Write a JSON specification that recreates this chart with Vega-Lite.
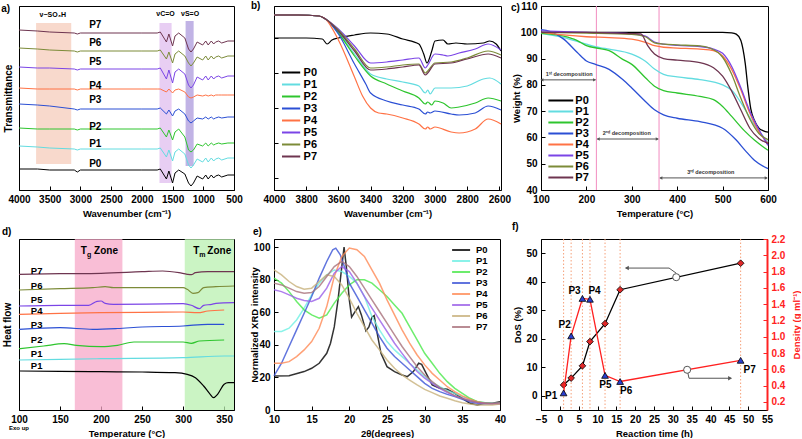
{
"$schema":"https://vega.github.io/schema/vega-lite/v6.json",
"background":"white",
"padding":0,
"config":{
 "font":"Liberation Sans",
 "view":{"stroke":"#000","strokeWidth":1},
 "axis":{"labelFontSize":10,"labelFontWeight":"bold","labelColor":"#000","titleFontSize":9.5,"titleFontWeight":"bold","titleColor":"#000","domainColor":"#000","tickColor":"#000","grid":false,"tickSize":-4,"labelPadding":8,"titlePadding":4,"labelFlush":false,"labelOverlap":false},
 "title":{"fontSize":10,"fontWeight":"bold","anchor":"start","frame":"group","offset":2,"baseline":"bottom","color":"#000"},
 "text":{"font":"Liberation Sans","fontWeight":"bold","color":"#000"}
},
"datasets":{
"a":[
{"s":"P7","x":4000,"y":160},{"s":"P7","x":3700,"y":159},{"s":"P7","x":3500,"y":158},{"s":"P7","x":3100,"y":157},{"s":"P7","x":3050,"y":156},{"s":"P7","x":3000,"y":157},{"s":"P7","x":2000,"y":157},{"s":"P7","x":1750,"y":157},{"s":"P7","x":1700,"y":158},{"s":"P7","x":1600,"y":148},{"s":"P7","x":1560,"y":156},{"s":"P7","x":1500,"y":144},{"s":"P7","x":1460,"y":154},{"s":"P7","x":1400,"y":157},{"s":"P7","x":1300,"y":152},{"s":"P7","x":1240,"y":141},{"s":"P7","x":1200,"y":138},{"s":"P7","x":1160,"y":141},{"s":"P7","x":1100,"y":148},{"s":"P7","x":1010,"y":145},{"s":"P7","x":960,"y":149},{"s":"P7","x":920,"y":145},{"s":"P7","x":870,"y":149},{"s":"P7","x":830,"y":146},{"s":"P7","x":800,"y":148},{"s":"P7","x":750,"y":149},{"s":"P7","x":700,"y":147},{"s":"P7","x":600,"y":149},{"s":"P7","x":500,"y":149},
{"s":"P6","x":4000,"y":142},{"s":"P6","x":3700,"y":141},{"s":"P6","x":3500,"y":140},{"s":"P6","x":3100,"y":139},{"s":"P6","x":3050,"y":138},{"s":"P6","x":3000,"y":139},{"s":"P6","x":2000,"y":139},{"s":"P6","x":1750,"y":139},{"s":"P6","x":1700,"y":140},{"s":"P6","x":1600,"y":131},{"s":"P6","x":1560,"y":138},{"s":"P6","x":1500,"y":127},{"s":"P6","x":1460,"y":136},{"s":"P6","x":1400,"y":139},{"s":"P6","x":1300,"y":134},{"s":"P6","x":1240,"y":127},{"s":"P6","x":1200,"y":124},{"s":"P6","x":1160,"y":127},{"s":"P6","x":1100,"y":133},{"s":"P6","x":1010,"y":130},{"s":"P6","x":960,"y":134},{"s":"P6","x":920,"y":130},{"s":"P6","x":870,"y":134},{"s":"P6","x":830,"y":131},{"s":"P6","x":800,"y":133},{"s":"P6","x":750,"y":134},{"s":"P6","x":700,"y":132},{"s":"P6","x":600,"y":134},{"s":"P6","x":500,"y":134},
{"s":"P5","x":4000,"y":123},{"s":"P5","x":3700,"y":122},{"s":"P5","x":3500,"y":122},{"s":"P5","x":3100,"y":121},{"s":"P5","x":3050,"y":120},{"s":"P5","x":3000,"y":121},{"s":"P5","x":2000,"y":121},{"s":"P5","x":1750,"y":121},{"s":"P5","x":1700,"y":122},{"s":"P5","x":1600,"y":111},{"s":"P5","x":1560,"y":120},{"s":"P5","x":1500,"y":107},{"s":"P5","x":1460,"y":118},{"s":"P5","x":1400,"y":121},{"s":"P5","x":1300,"y":116},{"s":"P5","x":1240,"y":105},{"s":"P5","x":1200,"y":102},{"s":"P5","x":1160,"y":105},{"s":"P5","x":1100,"y":113},{"s":"P5","x":1010,"y":110},{"s":"P5","x":960,"y":114},{"s":"P5","x":920,"y":110},{"s":"P5","x":870,"y":114},{"s":"P5","x":830,"y":111},{"s":"P5","x":800,"y":113},{"s":"P5","x":750,"y":114},{"s":"P5","x":700,"y":112},{"s":"P5","x":600,"y":114},{"s":"P5","x":500,"y":114},
{"s":"P4","x":4000,"y":102},{"s":"P4","x":3700,"y":101},{"s":"P4","x":3500,"y":101},{"s":"P4","x":3100,"y":101},{"s":"P4","x":3050,"y":100},{"s":"P4","x":3000,"y":101},{"s":"P4","x":2000,"y":101},{"s":"P4","x":1750,"y":101},{"s":"P4","x":1700,"y":101},{"s":"P4","x":1600,"y":98},{"s":"P4","x":1560,"y":101},{"s":"P4","x":1500,"y":97},{"s":"P4","x":1460,"y":100},{"s":"P4","x":1400,"y":101},{"s":"P4","x":1300,"y":98},{"s":"P4","x":1240,"y":93},{"s":"P4","x":1200,"y":92},{"s":"P4","x":1160,"y":93},{"s":"P4","x":1100,"y":95},{"s":"P4","x":1010,"y":94},{"s":"P4","x":960,"y":95},{"s":"P4","x":920,"y":94},{"s":"P4","x":870,"y":95},{"s":"P4","x":830,"y":94},{"s":"P4","x":800,"y":95},{"s":"P4","x":750,"y":95},{"s":"P4","x":700,"y":95},{"s":"P4","x":600,"y":95},{"s":"P4","x":500,"y":95},
{"s":"P3","x":4000,"y":86},{"s":"P3","x":3700,"y":85},{"s":"P3","x":3500,"y":84},{"s":"P3","x":3100,"y":81},{"s":"P3","x":3050,"y":80},{"s":"P3","x":3000,"y":81},{"s":"P3","x":2000,"y":81},{"s":"P3","x":1750,"y":81},{"s":"P3","x":1700,"y":82},{"s":"P3","x":1600,"y":76},{"s":"P3","x":1560,"y":80},{"s":"P3","x":1500,"y":74},{"s":"P3","x":1460,"y":79},{"s":"P3","x":1400,"y":81},{"s":"P3","x":1300,"y":76},{"s":"P3","x":1240,"y":69},{"s":"P3","x":1200,"y":67},{"s":"P3","x":1160,"y":69},{"s":"P3","x":1100,"y":72},{"s":"P3","x":1010,"y":71},{"s":"P3","x":960,"y":73},{"s":"P3","x":920,"y":71},{"s":"P3","x":870,"y":73},{"s":"P3","x":830,"y":71},{"s":"P3","x":800,"y":72},{"s":"P3","x":750,"y":73},{"s":"P3","x":700,"y":72},{"s":"P3","x":600,"y":73},{"s":"P3","x":500,"y":73},
{"s":"P2","x":4000,"y":62},{"s":"P2","x":3700,"y":61},{"s":"P2","x":3500,"y":61},{"s":"P2","x":3100,"y":61},{"s":"P2","x":3050,"y":60},{"s":"P2","x":3000,"y":61},{"s":"P2","x":2000,"y":61},{"s":"P2","x":1750,"y":61},{"s":"P2","x":1700,"y":62},{"s":"P2","x":1600,"y":53},{"s":"P2","x":1560,"y":60},{"s":"P2","x":1500,"y":50},{"s":"P2","x":1460,"y":58},{"s":"P2","x":1400,"y":61},{"s":"P2","x":1300,"y":53},{"s":"P2","x":1240,"y":40},{"s":"P2","x":1200,"y":38},{"s":"P2","x":1160,"y":40},{"s":"P2","x":1100,"y":46},{"s":"P2","x":1010,"y":44},{"s":"P2","x":960,"y":47},{"s":"P2","x":920,"y":44},{"s":"P2","x":870,"y":47},{"s":"P2","x":830,"y":45},{"s":"P2","x":800,"y":46},{"s":"P2","x":750,"y":47},{"s":"P2","x":700,"y":46},{"s":"P2","x":600,"y":47},{"s":"P2","x":500,"y":47},
{"s":"P1","x":4000,"y":44},{"s":"P1","x":3700,"y":43},{"s":"P1","x":3500,"y":42},{"s":"P1","x":3100,"y":41},{"s":"P1","x":3050,"y":40},{"s":"P1","x":3000,"y":41},{"s":"P1","x":2000,"y":41},{"s":"P1","x":1750,"y":41},{"s":"P1","x":1700,"y":42},{"s":"P1","x":1600,"y":33},{"s":"P1","x":1560,"y":40},{"s":"P1","x":1500,"y":29},{"s":"P1","x":1460,"y":38},{"s":"P1","x":1400,"y":41},{"s":"P1","x":1300,"y":36},{"s":"P1","x":1240,"y":25},{"s":"P1","x":1200,"y":22},{"s":"P1","x":1160,"y":25},{"s":"P1","x":1100,"y":31},{"s":"P1","x":1010,"y":28},{"s":"P1","x":960,"y":32},{"s":"P1","x":920,"y":28},{"s":"P1","x":870,"y":32},{"s":"P1","x":830,"y":29},{"s":"P1","x":800,"y":31},{"s":"P1","x":750,"y":32},{"s":"P1","x":700,"y":30},{"s":"P1","x":600,"y":32},{"s":"P1","x":500,"y":32},
{"s":"P0","x":4000,"y":21},{"s":"P0","x":3700,"y":21},{"s":"P0","x":3500,"y":20},{"s":"P0","x":3100,"y":20},{"s":"P0","x":3050,"y":18},{"s":"P0","x":3000,"y":20},{"s":"P0","x":2000,"y":20},{"s":"P0","x":1750,"y":20},{"s":"P0","x":1700,"y":21},{"s":"P0","x":1600,"y":11},{"s":"P0","x":1560,"y":19},{"s":"P0","x":1500,"y":7},{"s":"P0","x":1460,"y":17},{"s":"P0","x":1400,"y":20},{"s":"P0","x":1300,"y":16},{"s":"P0","x":1240,"y":7},{"s":"P0","x":1200,"y":4},{"s":"P0","x":1160,"y":7},{"s":"P0","x":1100,"y":14},{"s":"P0","x":1010,"y":11},{"s":"P0","x":960,"y":15},{"s":"P0","x":920,"y":11},{"s":"P0","x":870,"y":15},{"s":"P0","x":830,"y":12},{"s":"P0","x":800,"y":14},{"s":"P0","x":750,"y":15},{"s":"P0","x":700,"y":13},{"s":"P0","x":600,"y":15},{"s":"P0","x":500,"y":15}
],
"b":[
{"s":"P0","x":4000,"y":152},{"s":"P0","x":3800,"y":152},{"s":"P0","x":3700,"y":151},{"s":"P0","x":3670,"y":146},{"s":"P0","x":3640,"y":150},{"s":"P0","x":3600,"y":152},{"s":"P0","x":3500,"y":155},{"s":"P0","x":3400,"y":157},{"s":"P0","x":3300,"y":156},{"s":"P0","x":3200,"y":151},{"s":"P0","x":3100,"y":146},{"s":"P0","x":3070,"y":136},{"s":"P0","x":3050,"y":127},{"s":"P0","x":3020,"y":139},{"s":"P0","x":3000,"y":149},{"s":"P0","x":2950,"y":150},{"s":"P0","x":2920,"y":146},{"s":"P0","x":2870,"y":147},{"s":"P0","x":2800,"y":146},{"s":"P0","x":2700,"y":147},{"s":"P0","x":2660,"y":149},{"s":"P0","x":2620,"y":146},{"s":"P0","x":2590,"y":139},
{"s":"P1","x":4000,"y":175},{"s":"P1","x":3850,"y":175},{"s":"P1","x":3720,"y":174},{"s":"P1","x":3680,"y":171},{"s":"P1","x":3600,"y":158},{"s":"P1","x":3500,"y":136},{"s":"P1","x":3400,"y":116},{"s":"P1","x":3300,"y":111},{"s":"P1","x":3200,"y":108},{"s":"P1","x":3100,"y":104},{"s":"P1","x":3060,"y":97},{"s":"P1","x":3045,"y":100},{"s":"P1","x":3030,"y":96},{"s":"P1","x":3000,"y":102},{"s":"P1","x":2900,"y":102},{"s":"P1","x":2800,"y":104},{"s":"P1","x":2700,"y":111},{"s":"P1","x":2660,"y":112},{"s":"P1","x":2590,"y":106},
{"s":"P2","x":4000,"y":175},{"s":"P2","x":3850,"y":175},{"s":"P2","x":3720,"y":174},{"s":"P2","x":3680,"y":171},{"s":"P2","x":3600,"y":157},{"s":"P2","x":3500,"y":134},{"s":"P2","x":3400,"y":114},{"s":"P2","x":3300,"y":106},{"s":"P2","x":3200,"y":99},{"s":"P2","x":3100,"y":92},{"s":"P2","x":3060,"y":86},{"s":"P2","x":3045,"y":88},{"s":"P2","x":3020,"y":85},{"s":"P2","x":3000,"y":89},{"s":"P2","x":2950,"y":87},{"s":"P2","x":2900,"y":82},{"s":"P2","x":2850,"y":83},{"s":"P2","x":2750,"y":87},{"s":"P2","x":2670,"y":92},{"s":"P2","x":2590,"y":89},
{"s":"P3","x":4000,"y":175},{"s":"P3","x":3850,"y":175},{"s":"P3","x":3720,"y":174},{"s":"P3","x":3680,"y":171},{"s":"P3","x":3600,"y":156},{"s":"P3","x":3500,"y":126},{"s":"P3","x":3430,"y":106},{"s":"P3","x":3400,"y":97},{"s":"P3","x":3300,"y":89},{"s":"P3","x":3200,"y":85},{"s":"P3","x":3100,"y":81},{"s":"P3","x":3060,"y":76},{"s":"P3","x":3045,"y":78},{"s":"P3","x":3030,"y":77},{"s":"P3","x":3000,"y":79},{"s":"P3","x":2900,"y":76},{"s":"P3","x":2850,"y":75},{"s":"P3","x":2750,"y":77},{"s":"P3","x":2670,"y":84},{"s":"P3","x":2590,"y":80},
{"s":"P4","x":4000,"y":175},{"s":"P4","x":3850,"y":175},{"s":"P4","x":3720,"y":174},{"s":"P4","x":3680,"y":171},{"s":"P4","x":3600,"y":150},{"s":"P4","x":3500,"y":113},{"s":"P4","x":3450,"y":94},{"s":"P4","x":3400,"y":82},{"s":"P4","x":3350,"y":77},{"s":"P4","x":3300,"y":76},{"s":"P4","x":3200,"y":72},{"s":"P4","x":3100,"y":66},{"s":"P4","x":3060,"y":61},{"s":"P4","x":3045,"y":63},{"s":"P4","x":3030,"y":61},{"s":"P4","x":3000,"y":63},{"s":"P4","x":2900,"y":58},{"s":"P4","x":2850,"y":57},{"s":"P4","x":2750,"y":61},{"s":"P4","x":2670,"y":71},{"s":"P4","x":2590,"y":66},
{"s":"P5","x":4000,"y":175},{"s":"P5","x":3850,"y":175},{"s":"P5","x":3720,"y":174},{"s":"P5","x":3680,"y":171},{"s":"P5","x":3600,"y":161},{"s":"P5","x":3500,"y":144},{"s":"P5","x":3400,"y":127},{"s":"P5","x":3300,"y":128},{"s":"P5","x":3200,"y":130},{"s":"P5","x":3100,"y":132},{"s":"P5","x":3060,"y":122},{"s":"P5","x":3045,"y":125},{"s":"P5","x":3000,"y":136},{"s":"P5","x":2950,"y":135},{"s":"P5","x":2920,"y":134},{"s":"P5","x":2850,"y":137},{"s":"P5","x":2750,"y":141},{"s":"P5","x":2670,"y":146},{"s":"P5","x":2590,"y":140},
{"s":"P6","x":4000,"y":175},{"s":"P6","x":3850,"y":175},{"s":"P6","x":3720,"y":174},{"s":"P6","x":3680,"y":171},{"s":"P6","x":3600,"y":160},{"s":"P6","x":3500,"y":141},{"s":"P6","x":3400,"y":122},{"s":"P6","x":3300,"y":123},{"s":"P6","x":3200,"y":125},{"s":"P6","x":3100,"y":126},{"s":"P6","x":3060,"y":117},{"s":"P6","x":3045,"y":119},{"s":"P6","x":3000,"y":127},{"s":"P6","x":2900,"y":128},{"s":"P6","x":2800,"y":132},{"s":"P6","x":2670,"y":139},{"s":"P6","x":2590,"y":135},
{"s":"P7","x":4000,"y":175},{"s":"P7","x":3850,"y":175},{"s":"P7","x":3720,"y":174},{"s":"P7","x":3680,"y":171},{"s":"P7","x":3600,"y":159},{"s":"P7","x":3500,"y":139},{"s":"P7","x":3400,"y":120},{"s":"P7","x":3300,"y":121},{"s":"P7","x":3200,"y":123},{"s":"P7","x":3100,"y":125},{"s":"P7","x":3060,"y":115},{"s":"P7","x":3045,"y":117},{"s":"P7","x":3000,"y":126},{"s":"P7","x":2900,"y":127},{"s":"P7","x":2800,"y":131},{"s":"P7","x":2670,"y":136},{"s":"P7","x":2590,"y":132}
],
"c":[
{"s":"P0","x":100,"y":100},{"s":"P0","x":200,"y":100},{"s":"P0","x":300,"y":100},{"s":"P0","x":400,"y":100},{"s":"P0","x":500,"y":100},{"s":"P0","x":520,"y":99.8},{"s":"P0","x":530,"y":99.3},{"s":"P0","x":540,"y":97},{"s":"P0","x":545,"y":93.5},{"s":"P0","x":550,"y":88},{"s":"P0","x":555,"y":80},{"s":"P0","x":562,"y":71},{"s":"P0","x":570,"y":66.5},{"s":"P0","x":580,"y":63.5},{"s":"P0","x":590,"y":62.5},{"s":"P0","x":600,"y":62},
{"s":"P1","x":100,"y":99.6},{"s":"P1","x":150,"y":98},{"s":"P1","x":200,"y":95.5},{"s":"P1","x":230,"y":94.2},{"s":"P1","x":250,"y":93.6},{"s":"P1","x":300,"y":91.7},{"s":"P1","x":330,"y":89},{"s":"P1","x":350,"y":86},{"s":"P1","x":370,"y":84},{"s":"P1","x":400,"y":83},{"s":"P1","x":450,"y":82},{"s":"P1","x":500,"y":80},{"s":"P1","x":520,"y":78},{"s":"P1","x":550,"y":70.5},{"s":"P1","x":570,"y":64.7},{"s":"P1","x":600,"y":58.3},
{"s":"P2","x":100,"y":99.6},{"s":"P2","x":150,"y":98.5},{"s":"P2","x":180,"y":96.8},{"s":"P2","x":200,"y":94.9},{"s":"P2","x":230,"y":93.8},{"s":"P2","x":250,"y":93},{"s":"P2","x":280,"y":89.7},{"s":"P2","x":300,"y":87.8},{"s":"P2","x":330,"y":82.7},{"s":"P2","x":350,"y":79.5},{"s":"P2","x":370,"y":77.8},{"s":"P2","x":400,"y":76.9},{"s":"P2","x":450,"y":75.6},{"s":"P2","x":480,"y":74.4},{"s":"P2","x":500,"y":71.8},{"s":"P2","x":520,"y":68},{"s":"P2","x":550,"y":62.2},{"s":"P2","x":570,"y":59},{"s":"P2","x":600,"y":55.1},
{"s":"P3","x":100,"y":101},{"s":"P3","x":120,"y":100.3},{"s":"P3","x":150,"y":97.4},{"s":"P3","x":180,"y":92.3},{"s":"P3","x":200,"y":89.1},{"s":"P3","x":220,"y":87.8},{"s":"P3","x":250,"y":85.9},{"s":"P3","x":280,"y":82},{"s":"P3","x":300,"y":78.8},{"s":"P3","x":330,"y":73.7},{"s":"P3","x":350,"y":70.5},{"s":"P3","x":370,"y":68.6},{"s":"P3","x":400,"y":67.3},{"s":"P3","x":450,"y":66},{"s":"P3","x":500,"y":63.5},{"s":"P3","x":530,"y":59},{"s":"P3","x":550,"y":55},{"s":"P3","x":570,"y":51.3},{"s":"P3","x":600,"y":48.1},
{"s":"P4","x":100,"y":100},{"s":"P4","x":150,"y":99},{"s":"P4","x":200,"y":98.3},{"s":"P4","x":250,"y":98},{"s":"P4","x":300,"y":97.4},{"s":"P4","x":330,"y":96.2},{"s":"P4","x":350,"y":94.9},{"s":"P4","x":370,"y":94.3},{"s":"P4","x":400,"y":94},{"s":"P4","x":450,"y":93.6},{"s":"P4","x":480,"y":93},{"s":"P4","x":500,"y":91},{"s":"P4","x":520,"y":85.9},{"s":"P4","x":540,"y":78.2},{"s":"P4","x":560,"y":69.2},{"s":"P4","x":580,"y":62.2},{"s":"P4","x":600,"y":57.7},
{"s":"P5","x":100,"y":100.5},{"s":"P5","x":200,"y":100},{"s":"P5","x":300,"y":99.4},{"s":"P5","x":330,"y":98.5},{"s":"P5","x":350,"y":96.3},{"s":"P5","x":370,"y":95.5},{"s":"P5","x":400,"y":95},{"s":"P5","x":450,"y":94.6},{"s":"P5","x":480,"y":93.6},{"s":"P5","x":500,"y":92},{"s":"P5","x":520,"y":87},{"s":"P5","x":540,"y":79},{"s":"P5","x":560,"y":70},{"s":"P5","x":580,"y":63},{"s":"P5","x":600,"y":57},
{"s":"P6","x":100,"y":100},{"s":"P6","x":200,"y":99.7},{"s":"P6","x":300,"y":99.2},{"s":"P6","x":330,"y":98.3},{"s":"P6","x":350,"y":96},{"s":"P6","x":370,"y":95.5},{"s":"P6","x":400,"y":95.2},{"s":"P6","x":450,"y":94.8},{"s":"P6","x":490,"y":92.3},{"s":"P6","x":500,"y":90.5},{"s":"P6","x":520,"y":84},{"s":"P6","x":540,"y":75},{"s":"P6","x":560,"y":67},{"s":"P6","x":580,"y":61.5},{"s":"P6","x":600,"y":59.2},
{"s":"P7","x":100,"y":100},{"s":"P7","x":200,"y":100},{"s":"P7","x":300,"y":99.5},{"s":"P7","x":320,"y":99.4},{"s":"P7","x":335,"y":94.9},{"s":"P7","x":350,"y":91.7},{"s":"P7","x":370,"y":90},{"s":"P7","x":400,"y":89.4},{"s":"P7","x":450,"y":88.5},{"s":"P7","x":480,"y":86.5},{"s":"P7","x":500,"y":83.3},{"s":"P7","x":520,"y":77.6},{"s":"P7","x":540,"y":70.5},{"s":"P7","x":560,"y":63.5},{"s":"P7","x":580,"y":59.6},{"s":"P7","x":600,"y":57.7}
],
"d":[
{"s":"P7","x":100,"y":135.7},{"s":"P7","x":150,"y":136.3},{"s":"P7","x":200,"y":136.7},{"s":"P7","x":250,"y":138.3},{"s":"P7","x":275,"y":139},{"s":"P7","x":295,"y":137.3},{"s":"P7","x":305,"y":135.7},{"s":"P7","x":310,"y":135.3},{"s":"P7","x":315,"y":137.3},{"s":"P7","x":330,"y":138.3},{"s":"P7","x":362,"y":138.3},
{"s":"P6","x":100,"y":120},{"s":"P6","x":150,"y":121.3},{"s":"P6","x":190,"y":122.3},{"s":"P6","x":205,"y":123.3},{"s":"P6","x":215,"y":122.3},{"s":"P6","x":300,"y":122.3},{"s":"P6","x":305,"y":120.7},{"s":"P6","x":312,"y":116.7},{"s":"P6","x":318,"y":117.3},{"s":"P6","x":325,"y":122.3},{"s":"P6","x":340,"y":123.3},{"s":"P6","x":362,"y":124},
{"s":"P5","x":100,"y":104},{"s":"P5","x":150,"y":104.7},{"s":"P5","x":185,"y":104.7},{"s":"P5","x":195,"y":108.7},{"s":"P5","x":200,"y":109},{"s":"P5","x":205,"y":106.7},{"s":"P5","x":215,"y":105.7},{"s":"P5","x":300,"y":106.3},{"s":"P5","x":310,"y":104.7},{"s":"P5","x":320,"y":101.3},{"s":"P5","x":325,"y":104.7},{"s":"P5","x":335,"y":105.7},{"s":"P5","x":340,"y":106.7},{"s":"P5","x":362,"y":107.3},
{"s":"P4","x":100,"y":95.7},{"s":"P4","x":150,"y":96.7},{"s":"P4","x":200,"y":97.3},{"s":"P4","x":250,"y":97.7},{"s":"P4","x":300,"y":98},{"s":"P4","x":318,"y":97.3},{"s":"P4","x":330,"y":99},{"s":"P4","x":350,"y":100},
{"s":"P3","x":100,"y":80.7},{"s":"P3","x":150,"y":82.3},{"s":"P3","x":190,"y":80.7},{"s":"P3","x":220,"y":81.5},{"s":"P3","x":250,"y":83},{"s":"P3","x":300,"y":84},{"s":"P3","x":330,"y":85.7},{"s":"P3","x":350,"y":85.7},
{"s":"P2","x":100,"y":61.3},{"s":"P2","x":130,"y":64},{"s":"P2","x":155,"y":66.3},{"s":"P2","x":170,"y":64.7},{"s":"P2","x":200,"y":63.3},{"s":"P2","x":220,"y":64.7},{"s":"P2","x":240,"y":68},{"s":"P2","x":300,"y":68},{"s":"P2","x":310,"y":66.7},{"s":"P2","x":320,"y":69},{"s":"P2","x":350,"y":70},
{"s":"P1","x":100,"y":50},{"s":"P1","x":150,"y":50.7},{"s":"P1","x":200,"y":51.3},{"s":"P1","x":300,"y":52.3},{"s":"P1","x":350,"y":54},{"s":"P1","x":362,"y":54},
{"s":"P0","x":100,"y":39},{"s":"P0","x":150,"y":38.7},{"s":"P0","x":200,"y":38.3},{"s":"P0","x":250,"y":38},{"s":"P0","x":290,"y":37.3},{"s":"P0","x":305,"y":35.7},{"s":"P0","x":315,"y":32.3},{"s":"P0","x":325,"y":24},{"s":"P0","x":333,"y":15.7},{"s":"P0","x":337,"y":12.3},{"s":"P0","x":342,"y":15.7},{"s":"P0","x":350,"y":25.7},{"s":"P0","x":355,"y":27.3},{"s":"P0","x":362,"y":27.3}
],
"e":[
{"s":"P0","x":10,"y":20.9},{"s":"P0","x":12,"y":21},{"s":"P0","x":14,"y":23.6},{"s":"P0","x":15,"y":25.6},{"s":"P0","x":16,"y":28.7},{"s":"P0","x":17,"y":34.8},{"s":"P0","x":17.5,"y":41},{"s":"P0","x":18,"y":51},{"s":"P0","x":18.5,"y":67.6},{"s":"P0","x":19,"y":88},{"s":"P0","x":19.3,"y":100},{"s":"P0","x":19.6,"y":88},{"s":"P0","x":20,"y":67.6},{"s":"P0","x":20.3,"y":57},{"s":"P0","x":20.7,"y":60},{"s":"P0","x":21.2,"y":63.5},{"s":"P0","x":21.6,"y":58.4},{"s":"P0","x":22.2,"y":48.6},{"s":"P0","x":22.6,"y":51},{"s":"P0","x":23,"y":57},{"s":"P0","x":23.3,"y":58},{"s":"P0","x":23.7,"y":47.1},{"s":"P0","x":24.2,"y":34.8},{"s":"P0","x":25,"y":26.6},{"s":"P0","x":26,"y":23.6},{"s":"P0","x":27,"y":21.5},{"s":"P0","x":27.7,"y":20.5},{"s":"P0","x":28.5,"y":23.6},{"s":"P0","x":29.2,"y":28.7},{"s":"P0","x":29.6,"y":28},{"s":"P0","x":30.2,"y":22.5},{"s":"P0","x":31,"y":15.4},{"s":"P0","x":32,"y":13.3},{"s":"P0","x":33,"y":12.7},{"s":"P0","x":34,"y":10.2},{"s":"P0","x":35,"y":7.2},{"s":"P0","x":36,"y":4.1},{"s":"P0","x":37,"y":3.1},{"s":"P0","x":38,"y":4.1},{"s":"P0","x":39,"y":4.1},{"s":"P0","x":40,"y":5.1},
{"s":"P1","x":10,"y":48.2},{"s":"P1","x":11,"y":48.2},{"s":"P1","x":12,"y":50.2},{"s":"P1","x":13,"y":55.3},{"s":"P1","x":14,"y":62.5},{"s":"P1","x":15,"y":70.7},{"s":"P1","x":16,"y":77.9},{"s":"P1","x":17,"y":83},{"s":"P1","x":18,"y":86},{"s":"P1","x":19,"y":85},{"s":"P1","x":20,"y":82},{"s":"P1","x":21,"y":77.9},{"s":"P1","x":22,"y":69.7},{"s":"P1","x":23,"y":57.4},{"s":"P1","x":24,"y":49.2},{"s":"P1","x":25,"y":42},{"s":"P1","x":26,"y":36.9},{"s":"P1","x":27,"y":32.8},{"s":"P1","x":28,"y":28.7},{"s":"P1","x":29,"y":24.6},{"s":"P1","x":30,"y":20.5},{"s":"P1","x":31,"y":16.8},{"s":"P1","x":32,"y":14.3},{"s":"P1","x":33,"y":11.9},{"s":"P1","x":34,"y":10.2},{"s":"P1","x":35,"y":8.2},{"s":"P1","x":36,"y":6.6},{"s":"P1","x":37,"y":5.1},{"s":"P1","x":38,"y":4.5},{"s":"P1","x":39,"y":4.1},{"s":"P1","x":40,"y":4.1},
{"s":"P2","x":10,"y":81},{"s":"P2","x":11,"y":77.9},{"s":"P2","x":12,"y":72.7},{"s":"P2","x":13,"y":66.6},{"s":"P2","x":14,"y":61.5},{"s":"P2","x":15,"y":58.4},{"s":"P2","x":16,"y":56.4},{"s":"P2","x":17,"y":58.4},{"s":"P2","x":18,"y":65.6},{"s":"P2","x":19,"y":71.7},{"s":"P2","x":20,"y":76.8},{"s":"P2","x":21,"y":80},{"s":"P2","x":22,"y":80},{"s":"P2","x":23,"y":77.9},{"s":"P2","x":24,"y":73.8},{"s":"P2","x":25,"y":69.7},{"s":"P2","x":26,"y":64.5},{"s":"P2","x":27,"y":59.4},{"s":"P2","x":28,"y":51.2},{"s":"P2","x":29,"y":43},{"s":"P2","x":30,"y":34.8},{"s":"P2","x":31,"y":28.7},{"s":"P2","x":32,"y":22.5},{"s":"P2","x":33,"y":17.4},{"s":"P2","x":34,"y":13.3},{"s":"P2","x":35,"y":10.2},{"s":"P2","x":36,"y":7.2},{"s":"P2","x":37,"y":5.1},{"s":"P2","x":38,"y":4.5},{"s":"P2","x":39,"y":3.7},{"s":"P2","x":40,"y":4.1},
{"s":"P3","x":10,"y":21},{"s":"P3","x":11,"y":28.7},{"s":"P3","x":12,"y":39},{"s":"P3","x":13,"y":49.2},{"s":"P3","x":14,"y":59.4},{"s":"P3","x":15,"y":69.7},{"s":"P3","x":16,"y":81},{"s":"P3","x":17,"y":91.2},{"s":"P3","x":17.8,"y":98.4},{"s":"P3","x":18.2,"y":99.4},{"s":"P3","x":18.8,"y":95.3},{"s":"P3","x":19.5,"y":86},{"s":"P3","x":20,"y":77.9},{"s":"P3","x":21,"y":69.7},{"s":"P3","x":22,"y":61.5},{"s":"P3","x":23,"y":53.3},{"s":"P3","x":24,"y":45},{"s":"P3","x":25,"y":37.9},{"s":"P3","x":26,"y":32.8},{"s":"P3","x":27,"y":28.7},{"s":"P3","x":28,"y":24.6},{"s":"P3","x":29,"y":20.5},{"s":"P3","x":30,"y":16.4},{"s":"P3","x":31,"y":13.3},{"s":"P3","x":32,"y":11.3},{"s":"P3","x":33,"y":9.6},{"s":"P3","x":34,"y":8.2},{"s":"P3","x":35,"y":6.6},{"s":"P3","x":36,"y":5.1},{"s":"P3","x":37,"y":4.1},{"s":"P3","x":38,"y":3.7},{"s":"P3","x":39,"y":3.7},{"s":"P3","x":40,"y":4.1},
{"s":"P4","x":10,"y":28.7},{"s":"P4","x":11,"y":28.7},{"s":"P4","x":12,"y":29.7},{"s":"P4","x":13,"y":32.8},{"s":"P4","x":14,"y":36.9},{"s":"P4","x":15,"y":42},{"s":"P4","x":16,"y":50.2},{"s":"P4","x":17,"y":63.5},{"s":"P4","x":18,"y":82},{"s":"P4","x":19,"y":94.3},{"s":"P4","x":20,"y":99.4},{"s":"P4","x":21,"y":98.4},{"s":"P4","x":22,"y":94.3},{"s":"P4","x":23,"y":86},{"s":"P4","x":24,"y":77.9},{"s":"P4","x":25,"y":67.6},{"s":"P4","x":26,"y":58.4},{"s":"P4","x":27,"y":49.2},{"s":"P4","x":28,"y":41},{"s":"P4","x":29,"y":33.8},{"s":"P4","x":30,"y":27.7},{"s":"P4","x":31,"y":22.5},{"s":"P4","x":32,"y":18.4},{"s":"P4","x":33,"y":14.3},{"s":"P4","x":34,"y":11.3},{"s":"P4","x":35,"y":8.6},{"s":"P4","x":36,"y":6.6},{"s":"P4","x":37,"y":5.1},{"s":"P4","x":38,"y":4.1},{"s":"P4","x":39,"y":3.7},{"s":"P4","x":40,"y":3.7},
{"s":"P5","x":10,"y":73.8},{"s":"P5","x":11,"y":72.7},{"s":"P5","x":12,"y":70.7},{"s":"P5","x":13,"y":68.6},{"s":"P5","x":14,"y":67.2},{"s":"P5","x":15,"y":66.6},{"s":"P5","x":16,"y":68.6},{"s":"P5","x":17,"y":74.8},{"s":"P5","x":18,"y":84},{"s":"P5","x":19,"y":88.1},{"s":"P5","x":20,"y":85},{"s":"P5","x":21,"y":77.9},{"s":"P5","x":22,"y":69.7},{"s":"P5","x":23,"y":62.5},{"s":"P5","x":24,"y":55.3},{"s":"P5","x":25,"y":48.2},{"s":"P5","x":26,"y":41},{"s":"P5","x":27,"y":34.8},{"s":"P5","x":28,"y":28.7},{"s":"P5","x":29,"y":23.6},{"s":"P5","x":30,"y":19.5},{"s":"P5","x":31,"y":16.4},{"s":"P5","x":32,"y":13.3},{"s":"P5","x":33,"y":10.7},{"s":"P5","x":34,"y":8.6},{"s":"P5","x":35,"y":7.2},{"s":"P5","x":36,"y":5.7},{"s":"P5","x":37,"y":4.5},{"s":"P5","x":38,"y":4.1},{"s":"P5","x":39,"y":3.7},{"s":"P5","x":40,"y":3.7},
{"s":"P6","x":10,"y":86},{"s":"P6","x":11,"y":83},{"s":"P6","x":12,"y":78.9},{"s":"P6","x":13,"y":75.8},{"s":"P6","x":14,"y":74.2},{"s":"P6","x":15,"y":74.8},{"s":"P6","x":16,"y":78.9},{"s":"P6","x":17,"y":83},{"s":"P6","x":18,"y":82},{"s":"P6","x":19,"y":76.8},{"s":"P6","x":20,"y":68.6},{"s":"P6","x":21,"y":59.4},{"s":"P6","x":22,"y":51.2},{"s":"P6","x":23,"y":43},{"s":"P6","x":24,"y":36.9},{"s":"P6","x":25,"y":30.7},{"s":"P6","x":26,"y":25.6},{"s":"P6","x":27,"y":21.5},{"s":"P6","x":28,"y":18.4},{"s":"P6","x":29,"y":15.4},{"s":"P6","x":30,"y":12.7},{"s":"P6","x":31,"y":10.7},{"s":"P6","x":32,"y":8.6},{"s":"P6","x":33,"y":7.2},{"s":"P6","x":34,"y":5.7},{"s":"P6","x":35,"y":4.5},{"s":"P6","x":36,"y":3.7},{"s":"P6","x":37,"y":3.1},{"s":"P6","x":38,"y":3.1},{"s":"P6","x":39,"y":3.1},{"s":"P6","x":40,"y":3.7},
{"s":"P7","x":10,"y":77.9},{"s":"P7","x":11,"y":76.8},{"s":"P7","x":12,"y":74.8},{"s":"P7","x":13,"y":72.7},{"s":"P7","x":14,"y":71.7},{"s":"P7","x":15,"y":72.1},{"s":"P7","x":16,"y":75.8},{"s":"P7","x":17,"y":82},{"s":"P7","x":18,"y":88.1},{"s":"P7","x":19,"y":91.2},{"s":"P7","x":20,"y":88.1},{"s":"P7","x":21,"y":82},{"s":"P7","x":22,"y":74.8},{"s":"P7","x":23,"y":67.6},{"s":"P7","x":24,"y":60.5},{"s":"P7","x":25,"y":53.3},{"s":"P7","x":26,"y":46.1},{"s":"P7","x":27,"y":39},{"s":"P7","x":28,"y":32.8},{"s":"P7","x":29,"y":26.6},{"s":"P7","x":30,"y":21.5},{"s":"P7","x":31,"y":17.4},{"s":"P7","x":32,"y":13.9},{"s":"P7","x":33,"y":11.3},{"s":"P7","x":34,"y":8.8},{"s":"P7","x":35,"y":7},{"s":"P7","x":36,"y":5.7},{"s":"P7","x":37,"y":4.7},{"s":"P7","x":38,"y":4.1},{"s":"P7","x":39,"y":4.1},{"s":"P7","x":40,"y":4.5}
],
"f":[{"t":1,"dos":3.8,"den":0.31},{"t":3,"dos":6.2,"den":1.01},{"t":6,"dos":10.5,"den":1.47},{"t":8,"dos":19,"den":1.46},{"t":12,"dos":25.3,"den":0.525},{"t":16,"dos":37.2,"den":0.45},{"t":48,"dos":46.5,"den":0.71}]
},
"columns":3,
"spacing":{"row":49,"column":40},
"bounds":"flush",
"align":"each",
"resolve":{"scale":{"color":"independent","fill":"independent"},"legend":{"color":"independent"}},
"concat":[
  {"width":215,"height":184,
   "encoding":{
    "x":{"field":"x","type":"quantitative","scale":{"domain":[500,4000],"reverse":true,"nice":false,"zero":false},"axis":{"title":"Wavenumber (cm⁻¹)","format":"d","values":[4000,3500,3000,2500,2000,1500,1000,500]}},
    "y":{"field":"y","type":"quantitative","scale":{"domain":[0,184],"nice":false,"zero":false},"axis":{"title":"Transmittance","labels":false,"ticks":false,"titlePadding":6,"titleFontSize":10}}},
   "layer":[
    {"data":{"values":[{"x":3722,"x2":3150,"y":26,"y2":167,"r":"SO3H"},{"x":1713,"x2":1516,"y":7,"y2":167,"r":"C=O"},{"x":1288,"x2":1157,"y":24,"y2":169,"r":"S=O"}]},
     "mark":{"type":"rect","opacity":0.55},
     "encoding":{"x2":{"field":"x2"},"y2":{"field":"y2"},"fill":{"field":"r","type":"nominal","scale":{"domain":["SO3H","C=O","S=O"],"range":["#f2b9a2","#d5a6ea","#8e74d0"]},"legend":null}}},
    {"data":{"name":"a"},"mark":{"type":"line","strokeWidth":1},
     "encoding":{"color":{"field":"s","type":"nominal","scale":{"domain":["P0","P1","P2","P3","P4","P5","P6","P7"],"range":["#000000","#63dce0","#2ec52e","#2b4fd4","#ff7245","#7b45e6","#7c8b38","#6e3550"]},"legend":null}}},
    {"data":{"values":[{"s":"P7","x":2758,"y":165},{"s":"P6","x":2758,"y":147},{"s":"P5","x":2758,"y":128},{"s":"P4","x":2758,"y":104},{"s":"P3","x":2758,"y":90},{"s":"P2","x":2758,"y":63},{"s":"P1","x":2758,"y":46},{"s":"P0","x":2758,"y":26}]},
     "mark":{"type":"text","fontSize":10,"baseline":"middle"},"encoding":{"text":{"field":"s"}}},
    {"data":{"values":[{"t":"ν−SO₃H","x":3450,"y":175},{"t":"νC=O","x":1615,"y":176},{"t":"νS=O","x":1215,"y":176}]},
     "mark":{"type":"text","fontSize":7,"baseline":"middle"},"encoding":{"text":{"field":"t"}}},
    {"data":{"values":[{"t":"a)","x":4290,"y":181}]},"mark":{"type":"text","fontSize":10,"baseline":"middle","align":"left"},"encoding":{"text":{"field":"t"}}}
   ]},
  {"width":227,"height":184,
   "encoding":{
    "x":{"field":"x","type":"quantitative","scale":{"domain":[2590,4000],"reverse":true,"nice":false,"zero":false},"axis":{"title":"Wavenumber (cm⁻¹)","format":"d","values":[4000,3800,3600,3400,3200,3000,2800,2600]}},
    "y":{"field":"y","type":"quantitative","scale":{"domain":[0,184],"nice":false,"zero":false},"axis":{"title":null,"labels":false,"values":[12,47,82,117,152]}}},
   "layer":[
    {"data":{"name":"b"},
     "mark":{"type":"line","strokeWidth":1.2,"interpolate":"monotone"},
     "encoding":{"color":{"field":"s","type":"nominal","scale":{"domain":["P0","P1","P2","P3","P4","P5","P6","P7"],"range":["#000000","#63dce0","#2ec52e","#2b4fd4","#ff7245","#7b45e6","#7c8b38","#6e3550"]},
      "legend":{"orient":"none","legendX":10.6,"legendY":60,"title":null,"symbolType":"M-1.7,0L1.7,0","symbolSize":115,"symbolStrokeWidth":2,"labelFontSize":11,"labelFontWeight":"bold","labelColor":"#000","rowPadding":0,"labelOffset":6}}}},
    {"data":{"values":[{"t":"b)","x":4143,"y":184}]},"mark":{"type":"text","fontSize":10,"baseline":"middle","align":"left"},"encoding":{"text":{"field":"t"}}}
   ]},
 {"width":227,"height":184,
  "encoding":{
   "x":{"field":"x","type":"quantitative","scale":{"domain":[100,600],"nice":false,"zero":false},"axis":{"title":"Temperature (°C)","values":[100,200,300,400,500,600]}},
   "y":{"field":"y","type":"quantitative","scale":{"domain":[40,110],"nice":false,"zero":false},"axis":{"title":"Weight (%)","values":[40,50,60,70,80,90,100,110],"titleX":-20}}},
  "layer":[
   {"data":{"values":[{"x":222},{"x":360}]},"mark":{"type":"rule","color":"#f28cc0","strokeWidth":1},"encoding":{"y":null}},
   {"data":{"name":"c"},"mark":{"type":"line","strokeWidth":1.3,"interpolate":"monotone"},
    "encoding":{"color":{"field":"s","type":"nominal","scale":{"domain":["P0","P1","P2","P3","P4","P5","P6","P7"],"range":["#000000","#63dce0","#2ec52e","#2b4fd4","#ff7245","#7b45e6","#7c8b38","#6e3550"]},
     "legend":{"orient":"none","legendX":13.8,"legendY":88.5,"title":null,"symbolType":"M-2.65,0L2.65,0","symbolSize":88,"symbolStrokeWidth":2,"labelFontSize":11,"labelFontWeight":"bold","labelColor":"#000","rowPadding":0,"labelOffset":8.5}}}},
   {"data":{"values":[{"x":101,"x2":220,"y":81.9},{"x":224,"x2":358,"y":59.4},{"x":362,"x2":598,"y":44.6}]},"mark":{"type":"rule","color":"#555","strokeWidth":1},"encoding":{"x2":{"field":"x2"}}},
   {"data":{"values":[{"x":102,"y":81.9},{"x":226,"y":59.4},{"x":364,"y":44.6}]},"mark":{"type":"point","shape":"triangle-left","filled":true,"color":"#555","size":12,"opacity":1}},
   {"data":{"values":[{"x":218,"y":81.9},{"x":356,"y":59.4},{"x":596,"y":44.6}]},"mark":{"type":"point","shape":"triangle-right","filled":true,"color":"#555","size":12,"opacity":1}},
   {"data":{"values":[{"t":"1ˢᵗ decomposition","x":162,"y":84.3},{"t":"2ⁿᵈ decomposition","x":289,"y":61.6},{"t":"3ʳᵈ decomposition","x":474,"y":46.8}]},"mark":{"type":"text","fontSize":5.5,"baseline":"middle","color":"#333"},"encoding":{"text":{"field":"t"}}},
   {"data":{"values":[{"t":"c)","x":34,"y":109.4}]},"mark":{"type":"text","fontSize":10,"baseline":"middle","align":"left"},"encoding":{"text":{"field":"t"}}}
  ]},
  {"width":215,"height":171,
   "title":{"text":"d)","dx":-17},
   "encoding":{
    "x":{"field":"x","type":"quantitative","scale":{"domain":[100,362],"nice":false,"zero":false},"axis":{"title":"Temperature (°C)","values":[100,150,200,250,300,350]}},
    "y":{"field":"y","type":"quantitative","scale":{"domain":[0,171],"nice":false,"zero":false},"axis":{"title":"Heat flow","labels":false,"ticks":false,"titlePadding":7,"titleFontSize":10}}},
   "layer":[
    {"data":{"values":[{"x":168,"x2":226,"y":0,"y2":171,"z":"Tg"},{"x":302,"x2":362,"y":0,"y2":171,"z":"Tm"}]},
     "mark":{"type":"rect","opacity":0.75},
     "encoding":{"x2":{"field":"x2"},"y2":{"field":"y2"},"fill":{"field":"z","type":"nominal","scale":{"domain":["Tg","Tm"],"range":["#f7a8c8","#b9f0b0"]},"legend":null}}},
    {"data":{"name":"d"},"mark":{"type":"line","strokeWidth":1.2,"interpolate":"monotone"},
     "encoding":{"color":{"field":"s","type":"nominal","scale":{"domain":["P0","P1","P2","P3","P4","P5","P6","P7"],"range":["#000000","#63dce0","#2ec52e","#2b4fd4","#ff7245","#7b45e6","#7c8b38","#6e3550"]},"legend":null}}},
    {"data":{"values":[{"l":"P7","x":121.5,"y":139},{"l":"P6","x":121.5,"y":124},{"l":"P5","x":121.5,"y":110},{"l":"P4","x":121.5,"y":99.5},{"l":"P3","x":121.5,"y":85},{"l":"P2","x":121.5,"y":70},{"l":"P1","x":121.5,"y":56.5},{"l":"P1","x":121.5,"y":44}]},
     "mark":{"type":"text","fontSize":9.5,"baseline":"middle"},"encoding":{"text":{"field":"l"}}},
    {"data":{"values":[{"l":"T","x":175.2,"y":159},{"l":"T","x":312.2,"y":159}]},"mark":{"type":"text","fontSize":10,"baseline":"middle","align":"left"},"encoding":{"text":{"field":"l"}}},
    {"data":{"values":[{"l":"g","x":182.8,"y":155.5},{"l":"m","x":319.8,"y":155.5}]},"mark":{"type":"text","fontSize":7,"baseline":"middle","align":"left"},"encoding":{"text":{"field":"l"}}},
    {"data":{"values":[{"l":"Zone","x":191.5,"y":159},{"l":"Zone","x":329.5,"y":159}]},"mark":{"type":"text","fontSize":10,"baseline":"middle","align":"left"},"encoding":{"text":{"field":"l"}}},
    {"data":{"values":[{"l":"Exo up","x":100,"y":-18}]},"mark":{"type":"text","fontSize":6,"baseline":"middle"},"encoding":{"text":{"field":"l"}}}
   ]},
  {"width":226,"height":171,
   "title":{"text":"e)","dx":-21},
   "data":{"name":"e"},
   "mark":{"type":"line","strokeWidth":1.5,"opacity":0.8},
   "encoding":{
    "x":{"field":"x","type":"quantitative","scale":{"domain":[10,40],"nice":false,"zero":false},"axis":{"title":"2θ(degrees)","values":[10,15,20,25,30,35,40]}},
    "y":{"field":"y","type":"quantitative","scale":{"domain":[0,105],"nice":false,"zero":false},"axis":{"title":"Normalized XRD intensity","values":[0,20,40,60,80,100],"titleX":-15}},
    "color":{"field":"s","type":"nominal","scale":{"domain":["P0","P1","P2","P3","P4","P5","P6","P7"],"range":["#000000","#6ef0e4","#48e848","#3a52d6","#ff8a55","#9a5ee8","#c7b07a","#a8707a"]},
     "legend":{"orient":"none","legendX":180.6,"legendY":4.5,"title":null,"symbolType":"M-1.68,0L1.68,0","symbolSize":115,"symbolStrokeWidth":2,"labelFontSize":9.5,"labelFontWeight":"bold","labelColor":"#000","rowPadding":0,"labelOffset":8.3}}}},
 {"width":226,"height":171,
  "title":{"text":"f)","dx":-29},
  "layer":[
   {"data":{"name":"f"},"mark":{"type":"rule","color":"#f5a07a","strokeDash":[1.5,2],"strokeWidth":1},
    "encoding":{"x":{"field":"t","type":"quantitative","scale":{"domain":[-5,55],"nice":false,"zero":false},"axis":{"title":"Reaction time (h)","values":[-5,0,5,10,15,20,25,30,35,40,45,50,55]}}}},
   {"encoding":{
     "x":{"field":"t","type":"quantitative","scale":{"domain":[-5,55],"nice":false,"zero":false},"axis":{"title":"Reaction time (h)","values":[-5,0,5,10,15,20,25,30,35,40,45,50,55]}},
     "y":{"field":"dos","type":"quantitative","scale":{"domain":[-5,55],"nice":false,"zero":false},"axis":{"title":"DoS (%)","values":[0,10,20,30,40,50],"titleX":-19}}},
    "layer":[
     {"data":{"name":"f"},"mark":{"type":"line","color":"#000","strokeWidth":1.3}},
     {"data":{"name":"f"},"mark":{"type":"point","shape":"diamond","filled":true,"fill":"#e02828","stroke":"#000","strokeWidth":0.8,"size":45,"opacity":1}},
     {"data":{"values":[{"t":17.5,"dos":44.8},{"t":29,"dos":44.8},{"t":30.9,"dos":43}]},"mark":{"type":"line","color":"#555","strokeWidth":1}},
     {"data":{"values":[{"t":17.8,"dos":44.8}]},"mark":{"type":"point","shape":"triangle-left","filled":true,"color":"#555","size":20,"opacity":1}},
     {"data":{"values":[{"t":30.9,"dos":41.6}]},"mark":{"type":"point","shape":"circle","filled":true,"fill":"white","stroke":"#555","strokeWidth":1,"size":50,"opacity":1}}
    ]},
   {"encoding":{
     "x":{"field":"t","type":"quantitative","scale":{"domain":[-5,55],"nice":false,"zero":false},"axis":{"title":"Reaction time (h)","values":[-5,0,5,10,15,20,25,30,35,40,45,50,55]}},
     "y":{"field":"den","type":"quantitative","scale":{"domain":[0.1,2.2],"nice":false,"zero":false},"axis":{"orient":"right","title":"Density (g ml⁻¹)","values":[0.2,0.4,0.6,0.8,1.0,1.2,1.4,1.6,1.8,2.0,2.2],"format":".1f","labelColor":"#ff2222","titleColor":"#ff2222","domainColor":"#ff2222","tickColor":"#ff2222","domainWidth":2,"titleAngle":270,"titleBaseline":"bottom","titleX":34}}},
    "layer":[
     {"data":{"name":"f"},"mark":{"type":"line","color":"#ff2020","strokeWidth":1.3}},
     {"data":{"name":"f"},"mark":{"type":"point","shape":"triangle-up","filled":true,"fill":"#2a3fd0","stroke":"#000","strokeWidth":0.8,"size":45,"opacity":1}},
     {"data":{"values":[{"t":33.8,"den":0.594},{"t":34.3,"den":0.49},{"t":45.5,"den":0.49}]},"mark":{"type":"line","color":"#555","strokeWidth":1}},
     {"data":{"values":[{"t":45.2,"den":0.49}]},"mark":{"type":"point","shape":"triangle-right","filled":true,"color":"#555","size":20,"opacity":1}},
     {"data":{"values":[{"t":33.8,"den":0.594}]},"mark":{"type":"point","shape":"circle","filled":true,"fill":"white","stroke":"#555","strokeWidth":1,"size":50,"opacity":1}},
     {"data":{"values":[{"l":"P1","t":-2.3,"den":0.27},{"l":"P2","t":1.3,"den":1.14},{"l":"P3","t":3.9,"den":1.56},{"l":"P4","t":9.2,"den":1.56},{"l":"P5","t":12.1,"den":0.41},{"l":"P6","t":17.6,"den":0.33},{"l":"P7","t":50.4,"den":0.59}]},
      "mark":{"type":"text","fontSize":10,"baseline":"middle"},"encoding":{"text":{"field":"l"}}}
    ]}
  ],
  "resolve":{"scale":{"y":"independent"},"axis":{"y":"independent"}}}
]
}
